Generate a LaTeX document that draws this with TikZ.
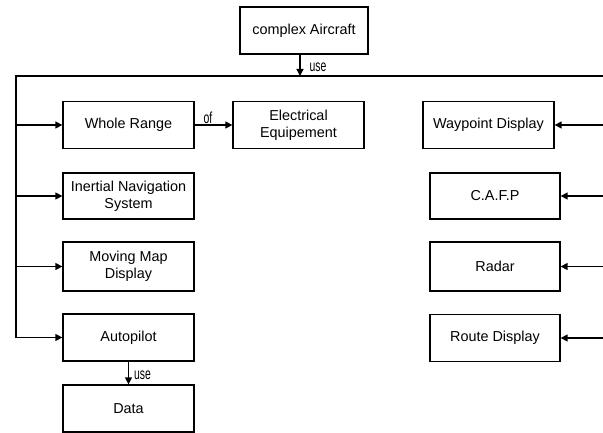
\documentclass[tikz,border=0pt]{standalone}
\usepackage{fontspec}
\setmainfont{Liberation Sans}
\newfontfamily\narrowfont[FakeStretch=0.65]{Liberation Sans}
\usepackage{tikz}
\usetikzlibrary{arrows.meta}
\tikzset{
  every picture/.style={line join=miter, >={Triangle[length=7pt,width=7pt]}},
  box/.style={draw, line width=1.3pt, minimum width=131pt, minimum height=47pt,
    inner sep=2pt, align=center, font=\fontsize{14.4}{16.7}\selectfont},
  lbl/.style={inner sep=0pt, font=\narrowfont\fontsize{16}{16}\selectfont},
  bus/.style={line width=1.4pt},
}

\begin{document}
\begin{tikzpicture}[x=1pt,y=-1pt]
\useasboundingbox (0,0) rectangle (603,433);
\node[box,minimum width=128pt] (air) at (304,30.5) {complex Aircraft};
\node[box] (whole) at (128.5,125) {Whole Range};
\node[box] (elec) at (298.5,125) {Electrical\\Equipement};
\node[box] (way) at (488.5,125) {Waypoint Display};
\node[box,minimum height=46pt] (ins) at (128.5,196) {Inertial Navigation\\System};
\node[box,minimum height=49pt] (map) at (128.5,266.5) {Moving Map\\Display};
\node[box] (auto) at (128.5,337.5) {Autopilot};
\node[box] (data) at (128.5,408.5) {Data};
\node[box,minimum width=130pt,minimum height=46pt] (cafp) at (495,196) {C.A.F.P};
\node[box,minimum width=130pt,minimum height=49pt] (radar) at (495,266.5) {Radar};
\node[box,minimum width=130pt] (route) at (495,338) {Route Display};
% bus
\coordinate (hub) at (300,76);
\coordinate (busL) at (16,76);
\coordinate (busR) at (603,76);
\draw[bus] (busR) -- (busL) -- (busL |- auto);
\draw[bus,->] (air.south -| hub) -- node[lbl,anchor=west,xshift=9pt,pos=0.6]{use} (hub);
\foreach \n in {whole,ins,map,auto}
  \draw[bus,->] (busL |- \n) -- (\n.west);
\foreach \n in {way,cafp,radar,route}
  \draw[bus,->] (busR |- \n) -- (\n.east);
\draw[bus,->] (whole) -- node[lbl,above=1pt,pos=0.35]{of} (elec);
\draw[bus,->] (auto) -- node[lbl,anchor=west,xshift=5pt,pos=0.6]{use} (data);
\end{tikzpicture}
\end{document}
